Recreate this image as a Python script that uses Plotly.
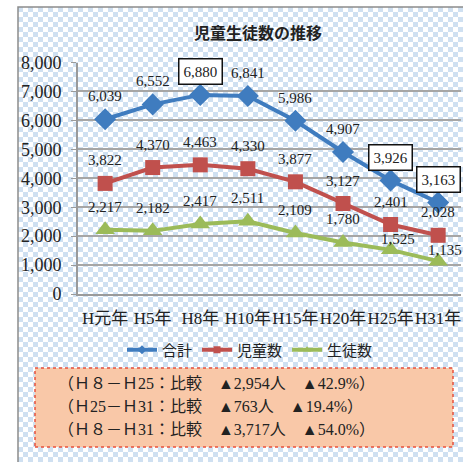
import base64
import plotly.graph_objects as go

W, H = 463, 462

categories = ["H元年", "H5年", "H8年", "H10年", "H15年", "H20年", "H25年", "H31年"]
total = [6039, 6552, 6880, 6841, 5986, 4907, 3926, 3163]
jido = [3822, 4370, 4463, 4330, 3877, 3127, 2401, 2028]
seito = [2217, 2182, 2417, 2511, 2109, 1780, 1525, 1135]
y_ticks = [0, 1000, 2000, 3000, 4000, 5000, 6000, 7000, 8000]

title_text = "児童生徒数の推移"
series_names = ["合計", "児童数", "生徒数"]
note_lines = [
    "（Ｈ８－Ｈ25：比較　▲2,954人　▲42.9%）",
    "（Ｈ25－Ｈ31：比較　▲763人　▲19.4%）",
    "（Ｈ８－Ｈ31：比較　▲3,717人　▲54.0%）",
]

boxed = {(0, 2), (0, 6), (0, 7)}
label_offsets = {(2, 6): (7, 11), (2, 7): (7, 11)}

colors = ["#3f7cbf", "#c0504d", "#9bbb59"]
symbols = ["diamond", "square", "triangle-up"]
msizes = [17, 15, 17]

SERIF = "Liberation Serif, Noto Sans CJK JP, serif"
SANS = "Noto Sans CJK JP, sans-serif"


def px(x):
    return x / W


def py(y):
    return 1 - y / H


fig = go.Figure()
all_series = [total, jido, seito]
for i, (name, vals) in enumerate(zip(series_names, all_series)):
    fig.add_trace(go.Scatter(
        x=categories, y=vals, name=name, mode="lines+markers",
        line=dict(color=colors[i], width=4),
        marker=dict(symbol=symbols[i], size=msizes[i], color=colors[i]),
        cliponaxis=False, showlegend=False,
    ))
# legend entries with small markers, as in the original legend
for i, name in enumerate(series_names):
    fig.add_trace(go.Scatter(
        x=[None], y=[None], name=name, mode="lines+markers",
        line=dict(color=colors[i], width=4),
        marker=dict(symbol=symbols[i], size=7, color=colors[i]),
        showlegend=True,
    ))

annotations = []
for i, vals in enumerate(all_series):
    for j, v in enumerate(vals):
        dx, dy = label_offsets.get((i, j), (0, 23))
        a = dict(x=categories[j], y=v, xref="x", yref="y", text=f"{v:,}",
                 showarrow=False, xshift=dx, yshift=dy,
                 font=dict(family=SERIF, size=15, color="#222222"))
        if (i, j) in boxed:
            a.update(bordercolor="#111111", borderwidth=1.5, borderpad=4,
                     bgcolor="white")
        annotations.append(a)

annotations.append(dict(x=px(258), y=py(32), xref="paper", yref="paper",
                        xanchor="center", yanchor="middle",
                        text=f"<b>{title_text}</b>", showarrow=False,
                        font=dict(family=SANS, size=16, color="#222222")))
for k, (line, yy) in enumerate(zip(note_lines, [383, 406, 429])):
    annotations.append(dict(x=px(56), y=py(yy), xref="paper", yref="paper",
                            xanchor="left", yanchor="middle", text=line,
                            showarrow=False,
                            font=dict(family=SERIF, size=16, color="#222222")))

# checkered background pattern for the chart frame
svg = ('<svg xmlns="http://www.w3.org/2000/svg" width="445" height="455">'
       '<defs><pattern id="p" width="10" height="10" patternUnits="userSpaceOnUse">'
       '<rect width="10" height="10" fill="#ffffff"/>'
       '<rect width="5" height="5" fill="#cfe0f1"/>'
       '<rect x="5" y="5" width="5" height="5" fill="#cfe0f1"/>'
       '</pattern></defs><rect width="445" height="455" fill="url(#p)"/></svg>')
src = "data:image/svg+xml;base64," + base64.b64encode(svg.encode()).decode()

fig.update_layout(
    width=W, height=H,
    margin=dict(l=0, r=0, t=0, b=0, autoexpand=False),
    paper_bgcolor="white", plot_bgcolor="white",
    showlegend=True,
    legend=dict(orientation="h", x=px(250), y=py(350), xanchor="center",
                yanchor="middle", bgcolor="rgba(0,0,0,0)",
                font=dict(family=SANS, size=15, color="#222222"),
                itemwidth=30, tracegroupgap=0),
    xaxis=dict(domain=[px(78), px(461)], type="category",
               range=[-0.57, 7.48], showgrid=False, showline=True,
               linecolor="#9a9a9a", linewidth=2, ticks="", tickangle=0,
               automargin=False, ticklabelstandoff=8,
               tickfont=dict(family=SERIF, size=17, color="#222222"),
               fixedrange=True),
    yaxis=dict(domain=[py(294), py(62.5)], range=[0, 8000],
               tickvals=y_ticks, tickformat=",", showgrid=True,
               gridcolor="#a6a6a6", gridwidth=1.5, showline=True,
               linecolor="#9a9a9a", linewidth=2, ticks="outside",
               ticklen=5, tickcolor="#9a9a9a", zeroline=False,
               automargin=False, ticklabelstandoff=6,
               tickfont=dict(family=SERIF, size=18, color="#222222"),
               fixedrange=True),
    annotations=annotations,
    images=[dict(source=src, xref="paper", yref="paper", x=px(18), y=py(7),
                 sizex=px(445), sizey=455 / H, sizing="stretch",
                 xanchor="left", yanchor="top", layer="below")],
    shapes=[
        dict(type="rect", xref="paper", yref="paper", x0=px(18), x1=px(470),
             y0=py(470), y1=py(7), line=dict(color="#8c8c8c", width=1.5),
             fillcolor="rgba(0,0,0,0)", layer="below"),
        dict(type="rect", xref="paper", yref="paper", x0=px(35), x1=px(453),
             y0=py(447), y1=py(368), fillcolor="#f9c8a8",
             line=dict(color="#e8503c", width=1.5, dash="dot")),
    ],
)

fig.write_html(
    "out.html",
    config={"displayModeBar": False},
    post_script="document.body.style.margin='0';document.body.style.overflow='hidden';",
)
